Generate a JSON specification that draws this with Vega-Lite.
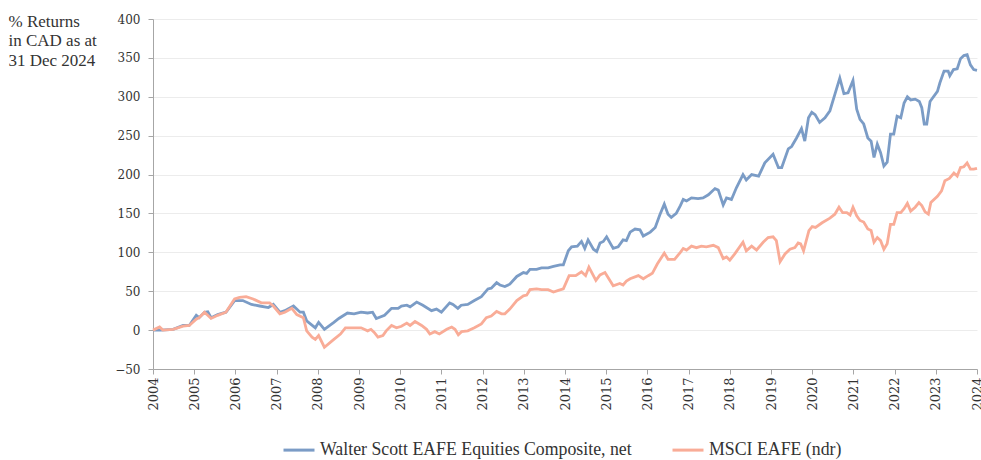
{
  "$schema": "https://vega.github.io/schema/vega-lite/v6.json",
  "width": 824,
  "height": 350,
  "autosize": {"type": "none"},
  "padding": {"left": 153, "top": 19, "right": 4, "bottom": 91},
  "background": "white",
  "config": {
    "view": {"stroke": null},
    "font": "DejaVu Serif",
    "axis": {"labelFont": "DejaVu Serif", "titleFont": "Liberation Serif", "labelColor": "#333333", "titleColor": "#333333", "domainColor": "#a6a6a6", "tickColor": "#a6a6a6", "gridColor": "#ececec", "gridWidth": 1},
    "legend": {"labelFont": "Liberation Serif"}
  },
  "data": {"values": [
    {"s":"Walter Scott EAFE Equities Composite, net","t":2004.0,"v":0},
    {"s":"Walter Scott EAFE Equities Composite, net","t":2004.2,"v":0},
    {"s":"Walter Scott EAFE Equities Composite, net","t":2004.49,"v":1},
    {"s":"Walter Scott EAFE Equities Composite, net","t":2004.73,"v":6},
    {"s":"Walter Scott EAFE Equities Composite, net","t":2004.88,"v":6},
    {"s":"Walter Scott EAFE Equities Composite, net","t":2005.05,"v":19},
    {"s":"Walter Scott EAFE Equities Composite, net","t":2005.12,"v":16},
    {"s":"Walter Scott EAFE Equities Composite, net","t":2005.25,"v":23},
    {"s":"Walter Scott EAFE Equities Composite, net","t":2005.33,"v":23.5},
    {"s":"Walter Scott EAFE Equities Composite, net","t":2005.41,"v":16},
    {"s":"Walter Scott EAFE Equities Composite, net","t":2005.57,"v":20},
    {"s":"Walter Scott EAFE Equities Composite, net","t":2005.77,"v":23},
    {"s":"Walter Scott EAFE Equities Composite, net","t":2005.98,"v":38},
    {"s":"Walter Scott EAFE Equities Composite, net","t":2006.18,"v":38},
    {"s":"Walter Scott EAFE Equities Composite, net","t":2006.39,"v":33},
    {"s":"Walter Scott EAFE Equities Composite, net","t":2006.59,"v":31},
    {"s":"Walter Scott EAFE Equities Composite, net","t":2006.8,"v":29},
    {"s":"Walter Scott EAFE Equities Composite, net","t":2006.92,"v":33},
    {"s":"Walter Scott EAFE Equities Composite, net","t":2007.08,"v":23},
    {"s":"Walter Scott EAFE Equities Composite, net","t":2007.2,"v":25},
    {"s":"Walter Scott EAFE Equities Composite, net","t":2007.41,"v":31},
    {"s":"Walter Scott EAFE Equities Composite, net","t":2007.57,"v":23},
    {"s":"Walter Scott EAFE Equities Composite, net","t":2007.65,"v":23},
    {"s":"Walter Scott EAFE Equities Composite, net","t":2007.73,"v":12},
    {"s":"Walter Scott EAFE Equities Composite, net","t":2007.94,"v":3},
    {"s":"Walter Scott EAFE Equities Composite, net","t":2008.02,"v":10},
    {"s":"Walter Scott EAFE Equities Composite, net","t":2008.16,"v":1},
    {"s":"Walter Scott EAFE Equities Composite, net","t":2008.39,"v":10},
    {"s":"Walter Scott EAFE Equities Composite, net","t":2008.51,"v":15},
    {"s":"Walter Scott EAFE Equities Composite, net","t":2008.72,"v":22},
    {"s":"Walter Scott EAFE Equities Composite, net","t":2008.88,"v":21},
    {"s":"Walter Scott EAFE Equities Composite, net","t":2009.05,"v":23},
    {"s":"Walter Scott EAFE Equities Composite, net","t":2009.21,"v":22},
    {"s":"Walter Scott EAFE Equities Composite, net","t":2009.33,"v":23},
    {"s":"Walter Scott EAFE Equities Composite, net","t":2009.42,"v":15},
    {"s":"Walter Scott EAFE Equities Composite, net","t":2009.62,"v":19},
    {"s":"Walter Scott EAFE Equities Composite, net","t":2009.79,"v":28},
    {"s":"Walter Scott EAFE Equities Composite, net","t":2009.95,"v":28},
    {"s":"Walter Scott EAFE Equities Composite, net","t":2010.03,"v":31},
    {"s":"Walter Scott EAFE Equities Composite, net","t":2010.16,"v":32},
    {"s":"Walter Scott EAFE Equities Composite, net","t":2010.24,"v":30},
    {"s":"Walter Scott EAFE Equities Composite, net","t":2010.4,"v":36},
    {"s":"Walter Scott EAFE Equities Composite, net","t":2010.55,"v":32},
    {"s":"Walter Scott EAFE Equities Composite, net","t":2010.76,"v":25},
    {"s":"Walter Scott EAFE Equities Composite, net","t":2010.88,"v":27},
    {"s":"Walter Scott EAFE Equities Composite, net","t":2011.0,"v":23},
    {"s":"Walter Scott EAFE Equities Composite, net","t":2011.2,"v":35},
    {"s":"Walter Scott EAFE Equities Composite, net","t":2011.28,"v":33},
    {"s":"Walter Scott EAFE Equities Composite, net","t":2011.4,"v":28},
    {"s":"Walter Scott EAFE Equities Composite, net","t":2011.48,"v":32},
    {"s":"Walter Scott EAFE Equities Composite, net","t":2011.64,"v":33},
    {"s":"Walter Scott EAFE Equities Composite, net","t":2011.8,"v":38},
    {"s":"Walter Scott EAFE Equities Composite, net","t":2011.97,"v":43},
    {"s":"Walter Scott EAFE Equities Composite, net","t":2012.13,"v":53},
    {"s":"Walter Scott EAFE Equities Composite, net","t":2012.21,"v":54},
    {"s":"Walter Scott EAFE Equities Composite, net","t":2012.34,"v":61},
    {"s":"Walter Scott EAFE Equities Composite, net","t":2012.42,"v":58},
    {"s":"Walter Scott EAFE Equities Composite, net","t":2012.54,"v":56},
    {"s":"Walter Scott EAFE Equities Composite, net","t":2012.66,"v":59},
    {"s":"Walter Scott EAFE Equities Composite, net","t":2012.83,"v":69},
    {"s":"Walter Scott EAFE Equities Composite, net","t":2012.99,"v":74},
    {"s":"Walter Scott EAFE Equities Composite, net","t":2013.07,"v":73},
    {"s":"Walter Scott EAFE Equities Composite, net","t":2013.15,"v":78},
    {"s":"Walter Scott EAFE Equities Composite, net","t":2013.31,"v":78},
    {"s":"Walter Scott EAFE Equities Composite, net","t":2013.43,"v":80},
    {"s":"Walter Scott EAFE Equities Composite, net","t":2013.59,"v":80},
    {"s":"Walter Scott EAFE Equities Composite, net","t":2013.72,"v":82},
    {"s":"Walter Scott EAFE Equities Composite, net","t":2013.88,"v":84},
    {"s":"Walter Scott EAFE Equities Composite, net","t":2013.96,"v":84},
    {"s":"Walter Scott EAFE Equities Composite, net","t":2014.08,"v":102},
    {"s":"Walter Scott EAFE Equities Composite, net","t":2014.16,"v":107},
    {"s":"Walter Scott EAFE Equities Composite, net","t":2014.3,"v":108},
    {"s":"Walter Scott EAFE Equities Composite, net","t":2014.4,"v":114},
    {"s":"Walter Scott EAFE Equities Composite, net","t":2014.48,"v":105},
    {"s":"Walter Scott EAFE Equities Composite, net","t":2014.56,"v":116},
    {"s":"Walter Scott EAFE Equities Composite, net","t":2014.69,"v":104},
    {"s":"Walter Scott EAFE Equities Composite, net","t":2014.77,"v":101},
    {"s":"Walter Scott EAFE Equities Composite, net","t":2014.85,"v":112},
    {"s":"Walter Scott EAFE Equities Composite, net","t":2014.93,"v":114},
    {"s":"Walter Scott EAFE Equities Composite, net","t":2015.01,"v":120},
    {"s":"Walter Scott EAFE Equities Composite, net","t":2015.17,"v":105},
    {"s":"Walter Scott EAFE Equities Composite, net","t":2015.29,"v":107},
    {"s":"Walter Scott EAFE Equities Composite, net","t":2015.41,"v":116},
    {"s":"Walter Scott EAFE Equities Composite, net","t":2015.49,"v":115},
    {"s":"Walter Scott EAFE Equities Composite, net","t":2015.58,"v":126},
    {"s":"Walter Scott EAFE Equities Composite, net","t":2015.7,"v":130},
    {"s":"Walter Scott EAFE Equities Composite, net","t":2015.82,"v":129},
    {"s":"Walter Scott EAFE Equities Composite, net","t":2015.9,"v":121},
    {"s":"Walter Scott EAFE Equities Composite, net","t":2016.07,"v":126},
    {"s":"Walter Scott EAFE Equities Composite, net","t":2016.19,"v":132},
    {"s":"Walter Scott EAFE Equities Composite, net","t":2016.3,"v":148},
    {"s":"Walter Scott EAFE Equities Composite, net","t":2016.41,"v":162},
    {"s":"Walter Scott EAFE Equities Composite, net","t":2016.5,"v":149},
    {"s":"Walter Scott EAFE Equities Composite, net","t":2016.58,"v":145},
    {"s":"Walter Scott EAFE Equities Composite, net","t":2016.7,"v":150},
    {"s":"Walter Scott EAFE Equities Composite, net","t":2016.8,"v":160},
    {"s":"Walter Scott EAFE Equities Composite, net","t":2016.87,"v":168},
    {"s":"Walter Scott EAFE Equities Composite, net","t":2016.95,"v":166},
    {"s":"Walter Scott EAFE Equities Composite, net","t":2017.07,"v":170},
    {"s":"Walter Scott EAFE Equities Composite, net","t":2017.23,"v":169},
    {"s":"Walter Scott EAFE Equities Composite, net","t":2017.35,"v":170},
    {"s":"Walter Scott EAFE Equities Composite, net","t":2017.48,"v":174},
    {"s":"Walter Scott EAFE Equities Composite, net","t":2017.64,"v":182},
    {"s":"Walter Scott EAFE Equities Composite, net","t":2017.72,"v":180},
    {"s":"Walter Scott EAFE Equities Composite, net","t":2017.84,"v":161},
    {"s":"Walter Scott EAFE Equities Composite, net","t":2017.92,"v":170},
    {"s":"Walter Scott EAFE Equities Composite, net","t":2018.04,"v":168},
    {"s":"Walter Scott EAFE Equities Composite, net","t":2018.16,"v":183},
    {"s":"Walter Scott EAFE Equities Composite, net","t":2018.32,"v":200},
    {"s":"Walter Scott EAFE Equities Composite, net","t":2018.4,"v":193},
    {"s":"Walter Scott EAFE Equities Composite, net","t":2018.53,"v":200},
    {"s":"Walter Scott EAFE Equities Composite, net","t":2018.7,"v":198},
    {"s":"Walter Scott EAFE Equities Composite, net","t":2018.85,"v":215},
    {"s":"Walter Scott EAFE Equities Composite, net","t":2019.05,"v":226},
    {"s":"Walter Scott EAFE Equities Composite, net","t":2019.18,"v":209},
    {"s":"Walter Scott EAFE Equities Composite, net","t":2019.26,"v":209},
    {"s":"Walter Scott EAFE Equities Composite, net","t":2019.42,"v":233},
    {"s":"Walter Scott EAFE Equities Composite, net","t":2019.5,"v":236},
    {"s":"Walter Scott EAFE Equities Composite, net","t":2019.62,"v":247},
    {"s":"Walter Scott EAFE Equities Composite, net","t":2019.74,"v":259},
    {"s":"Walter Scott EAFE Equities Composite, net","t":2019.82,"v":243},
    {"s":"Walter Scott EAFE Equities Composite, net","t":2019.91,"v":273},
    {"s":"Walter Scott EAFE Equities Composite, net","t":2019.99,"v":280},
    {"s":"Walter Scott EAFE Equities Composite, net","t":2020.07,"v":277},
    {"s":"Walter Scott EAFE Equities Composite, net","t":2020.18,"v":267},
    {"s":"Walter Scott EAFE Equities Composite, net","t":2020.31,"v":273},
    {"s":"Walter Scott EAFE Equities Composite, net","t":2020.43,"v":282},
    {"s":"Walter Scott EAFE Equities Composite, net","t":2020.55,"v":303},
    {"s":"Walter Scott EAFE Equities Composite, net","t":2020.67,"v":324},
    {"s":"Walter Scott EAFE Equities Composite, net","t":2020.77,"v":304},
    {"s":"Walter Scott EAFE Equities Composite, net","t":2020.87,"v":305},
    {"s":"Walter Scott EAFE Equities Composite, net","t":2020.99,"v":321},
    {"s":"Walter Scott EAFE Equities Composite, net","t":2021.08,"v":284},
    {"s":"Walter Scott EAFE Equities Composite, net","t":2021.16,"v":271},
    {"s":"Walter Scott EAFE Equities Composite, net","t":2021.25,"v":265},
    {"s":"Walter Scott EAFE Equities Composite, net","t":2021.35,"v":247},
    {"s":"Walter Scott EAFE Equities Composite, net","t":2021.43,"v":243},
    {"s":"Walter Scott EAFE Equities Composite, net","t":2021.5,"v":222},
    {"s":"Walter Scott EAFE Equities Composite, net","t":2021.58,"v":239},
    {"s":"Walter Scott EAFE Equities Composite, net","t":2021.66,"v":228},
    {"s":"Walter Scott EAFE Equities Composite, net","t":2021.74,"v":211},
    {"s":"Walter Scott EAFE Equities Composite, net","t":2021.82,"v":216},
    {"s":"Walter Scott EAFE Equities Composite, net","t":2021.9,"v":252},
    {"s":"Walter Scott EAFE Equities Composite, net","t":2021.98,"v":252},
    {"s":"Walter Scott EAFE Equities Composite, net","t":2022.06,"v":275},
    {"s":"Walter Scott EAFE Equities Composite, net","t":2022.15,"v":273},
    {"s":"Walter Scott EAFE Equities Composite, net","t":2022.23,"v":292},
    {"s":"Walter Scott EAFE Equities Composite, net","t":2022.31,"v":300},
    {"s":"Walter Scott EAFE Equities Composite, net","t":2022.39,"v":296},
    {"s":"Walter Scott EAFE Equities Composite, net","t":2022.5,"v":297},
    {"s":"Walter Scott EAFE Equities Composite, net","t":2022.6,"v":294},
    {"s":"Walter Scott EAFE Equities Composite, net","t":2022.66,"v":286},
    {"s":"Walter Scott EAFE Equities Composite, net","t":2022.72,"v":265},
    {"s":"Walter Scott EAFE Equities Composite, net","t":2022.78,"v":265},
    {"s":"Walter Scott EAFE Equities Composite, net","t":2022.86,"v":294},
    {"s":"Walter Scott EAFE Equities Composite, net","t":2023.04,"v":307},
    {"s":"Walter Scott EAFE Equities Composite, net","t":2023.1,"v":318},
    {"s":"Walter Scott EAFE Equities Composite, net","t":2023.2,"v":333},
    {"s":"Walter Scott EAFE Equities Composite, net","t":2023.3,"v":333},
    {"s":"Walter Scott EAFE Equities Composite, net","t":2023.34,"v":327},
    {"s":"Walter Scott EAFE Equities Composite, net","t":2023.43,"v":335},
    {"s":"Walter Scott EAFE Equities Composite, net","t":2023.52,"v":336},
    {"s":"Walter Scott EAFE Equities Composite, net","t":2023.6,"v":349},
    {"s":"Walter Scott EAFE Equities Composite, net","t":2023.68,"v":353},
    {"s":"Walter Scott EAFE Equities Composite, net","t":2023.76,"v":354},
    {"s":"Walter Scott EAFE Equities Composite, net","t":2023.84,"v":341},
    {"s":"Walter Scott EAFE Equities Composite, net","t":2023.92,"v":335},
    {"s":"Walter Scott EAFE Equities Composite, net","t":2024.0,"v":334},
    {"s":"MSCI EAFE (ndr)","t":2004.0,"v":0},
    {"s":"MSCI EAFE (ndr)","t":2004.16,"v":4},
    {"s":"MSCI EAFE (ndr)","t":2004.24,"v":0},
    {"s":"MSCI EAFE (ndr)","t":2004.49,"v":1},
    {"s":"MSCI EAFE (ndr)","t":2004.73,"v":5},
    {"s":"MSCI EAFE (ndr)","t":2004.88,"v":6},
    {"s":"MSCI EAFE (ndr)","t":2005.05,"v":14},
    {"s":"MSCI EAFE (ndr)","t":2005.12,"v":16},
    {"s":"MSCI EAFE (ndr)","t":2005.25,"v":23},
    {"s":"MSCI EAFE (ndr)","t":2005.41,"v":15},
    {"s":"MSCI EAFE (ndr)","t":2005.57,"v":19},
    {"s":"MSCI EAFE (ndr)","t":2005.77,"v":23},
    {"s":"MSCI EAFE (ndr)","t":2005.98,"v":40},
    {"s":"MSCI EAFE (ndr)","t":2006.1,"v":42},
    {"s":"MSCI EAFE (ndr)","t":2006.26,"v":43},
    {"s":"MSCI EAFE (ndr)","t":2006.43,"v":40},
    {"s":"MSCI EAFE (ndr)","t":2006.63,"v":35},
    {"s":"MSCI EAFE (ndr)","t":2006.83,"v":35},
    {"s":"MSCI EAFE (ndr)","t":2006.92,"v":31},
    {"s":"MSCI EAFE (ndr)","t":2007.08,"v":21},
    {"s":"MSCI EAFE (ndr)","t":2007.2,"v":23},
    {"s":"MSCI EAFE (ndr)","t":2007.37,"v":28},
    {"s":"MSCI EAFE (ndr)","t":2007.49,"v":20},
    {"s":"MSCI EAFE (ndr)","t":2007.65,"v":16},
    {"s":"MSCI EAFE (ndr)","t":2007.73,"v":-1},
    {"s":"MSCI EAFE (ndr)","t":2007.86,"v":-9},
    {"s":"MSCI EAFE (ndr)","t":2007.94,"v":-12},
    {"s":"MSCI EAFE (ndr)","t":2008.02,"v":-7},
    {"s":"MSCI EAFE (ndr)","t":2008.16,"v":-22},
    {"s":"MSCI EAFE (ndr)","t":2008.39,"v":-12},
    {"s":"MSCI EAFE (ndr)","t":2008.55,"v":-5},
    {"s":"MSCI EAFE (ndr)","t":2008.67,"v":3},
    {"s":"MSCI EAFE (ndr)","t":2008.88,"v":3},
    {"s":"MSCI EAFE (ndr)","t":2009.05,"v":3},
    {"s":"MSCI EAFE (ndr)","t":2009.21,"v":-1},
    {"s":"MSCI EAFE (ndr)","t":2009.29,"v":1},
    {"s":"MSCI EAFE (ndr)","t":2009.37,"v":-3},
    {"s":"MSCI EAFE (ndr)","t":2009.46,"v":-9},
    {"s":"MSCI EAFE (ndr)","t":2009.58,"v":-7},
    {"s":"MSCI EAFE (ndr)","t":2009.66,"v":-1},
    {"s":"MSCI EAFE (ndr)","t":2009.79,"v":6},
    {"s":"MSCI EAFE (ndr)","t":2009.91,"v":3},
    {"s":"MSCI EAFE (ndr)","t":2010.03,"v":5},
    {"s":"MSCI EAFE (ndr)","t":2010.16,"v":9},
    {"s":"MSCI EAFE (ndr)","t":2010.24,"v":6},
    {"s":"MSCI EAFE (ndr)","t":2010.36,"v":11},
    {"s":"MSCI EAFE (ndr)","t":2010.52,"v":6},
    {"s":"MSCI EAFE (ndr)","t":2010.64,"v":1},
    {"s":"MSCI EAFE (ndr)","t":2010.72,"v":-5},
    {"s":"MSCI EAFE (ndr)","t":2010.84,"v":-2},
    {"s":"MSCI EAFE (ndr)","t":2010.95,"v":-5},
    {"s":"MSCI EAFE (ndr)","t":2011.13,"v":1},
    {"s":"MSCI EAFE (ndr)","t":2011.25,"v":4},
    {"s":"MSCI EAFE (ndr)","t":2011.33,"v":1},
    {"s":"MSCI EAFE (ndr)","t":2011.41,"v":-6},
    {"s":"MSCI EAFE (ndr)","t":2011.49,"v":-2},
    {"s":"MSCI EAFE (ndr)","t":2011.64,"v":-1},
    {"s":"MSCI EAFE (ndr)","t":2011.8,"v":3},
    {"s":"MSCI EAFE (ndr)","t":2011.97,"v":8},
    {"s":"MSCI EAFE (ndr)","t":2012.09,"v":16},
    {"s":"MSCI EAFE (ndr)","t":2012.21,"v":18},
    {"s":"MSCI EAFE (ndr)","t":2012.34,"v":24},
    {"s":"MSCI EAFE (ndr)","t":2012.46,"v":21},
    {"s":"MSCI EAFE (ndr)","t":2012.54,"v":21},
    {"s":"MSCI EAFE (ndr)","t":2012.66,"v":27},
    {"s":"MSCI EAFE (ndr)","t":2012.83,"v":38},
    {"s":"MSCI EAFE (ndr)","t":2012.99,"v":44},
    {"s":"MSCI EAFE (ndr)","t":2013.07,"v":45},
    {"s":"MSCI EAFE (ndr)","t":2013.15,"v":52},
    {"s":"MSCI EAFE (ndr)","t":2013.31,"v":53},
    {"s":"MSCI EAFE (ndr)","t":2013.43,"v":52},
    {"s":"MSCI EAFE (ndr)","t":2013.59,"v":52},
    {"s":"MSCI EAFE (ndr)","t":2013.72,"v":49},
    {"s":"MSCI EAFE (ndr)","t":2013.84,"v":51},
    {"s":"MSCI EAFE (ndr)","t":2013.96,"v":53},
    {"s":"MSCI EAFE (ndr)","t":2014.1,"v":70},
    {"s":"MSCI EAFE (ndr)","t":2014.26,"v":70},
    {"s":"MSCI EAFE (ndr)","t":2014.4,"v":75},
    {"s":"MSCI EAFE (ndr)","t":2014.5,"v":70},
    {"s":"MSCI EAFE (ndr)","t":2014.58,"v":81},
    {"s":"MSCI EAFE (ndr)","t":2014.75,"v":64},
    {"s":"MSCI EAFE (ndr)","t":2014.85,"v":71},
    {"s":"MSCI EAFE (ndr)","t":2014.97,"v":74},
    {"s":"MSCI EAFE (ndr)","t":2015.17,"v":57},
    {"s":"MSCI EAFE (ndr)","t":2015.33,"v":60},
    {"s":"MSCI EAFE (ndr)","t":2015.41,"v":58},
    {"s":"MSCI EAFE (ndr)","t":2015.49,"v":63},
    {"s":"MSCI EAFE (ndr)","t":2015.58,"v":66},
    {"s":"MSCI EAFE (ndr)","t":2015.78,"v":70},
    {"s":"MSCI EAFE (ndr)","t":2015.9,"v":66},
    {"s":"MSCI EAFE (ndr)","t":2016.02,"v":70},
    {"s":"MSCI EAFE (ndr)","t":2016.12,"v":73},
    {"s":"MSCI EAFE (ndr)","t":2016.24,"v":85},
    {"s":"MSCI EAFE (ndr)","t":2016.41,"v":99},
    {"s":"MSCI EAFE (ndr)","t":2016.5,"v":91},
    {"s":"MSCI EAFE (ndr)","t":2016.66,"v":91},
    {"s":"MSCI EAFE (ndr)","t":2016.8,"v":100},
    {"s":"MSCI EAFE (ndr)","t":2016.87,"v":105},
    {"s":"MSCI EAFE (ndr)","t":2016.95,"v":103},
    {"s":"MSCI EAFE (ndr)","t":2017.07,"v":108},
    {"s":"MSCI EAFE (ndr)","t":2017.19,"v":106},
    {"s":"MSCI EAFE (ndr)","t":2017.31,"v":108},
    {"s":"MSCI EAFE (ndr)","t":2017.43,"v":107},
    {"s":"MSCI EAFE (ndr)","t":2017.6,"v":109},
    {"s":"MSCI EAFE (ndr)","t":2017.72,"v":106},
    {"s":"MSCI EAFE (ndr)","t":2017.84,"v":92},
    {"s":"MSCI EAFE (ndr)","t":2017.92,"v":94},
    {"s":"MSCI EAFE (ndr)","t":2018.0,"v":90},
    {"s":"MSCI EAFE (ndr)","t":2018.12,"v":98},
    {"s":"MSCI EAFE (ndr)","t":2018.32,"v":113},
    {"s":"MSCI EAFE (ndr)","t":2018.4,"v":102},
    {"s":"MSCI EAFE (ndr)","t":2018.53,"v":108},
    {"s":"MSCI EAFE (ndr)","t":2018.65,"v":103},
    {"s":"MSCI EAFE (ndr)","t":2018.81,"v":113},
    {"s":"MSCI EAFE (ndr)","t":2018.93,"v":119},
    {"s":"MSCI EAFE (ndr)","t":2019.05,"v":120},
    {"s":"MSCI EAFE (ndr)","t":2019.13,"v":115},
    {"s":"MSCI EAFE (ndr)","t":2019.22,"v":88},
    {"s":"MSCI EAFE (ndr)","t":2019.34,"v":98},
    {"s":"MSCI EAFE (ndr)","t":2019.46,"v":104},
    {"s":"MSCI EAFE (ndr)","t":2019.58,"v":106},
    {"s":"MSCI EAFE (ndr)","t":2019.66,"v":112},
    {"s":"MSCI EAFE (ndr)","t":2019.72,"v":111},
    {"s":"MSCI EAFE (ndr)","t":2019.79,"v":102},
    {"s":"MSCI EAFE (ndr)","t":2019.92,"v":128},
    {"s":"MSCI EAFE (ndr)","t":2020.0,"v":133},
    {"s":"MSCI EAFE (ndr)","t":2020.08,"v":132},
    {"s":"MSCI EAFE (ndr)","t":2020.24,"v":138},
    {"s":"MSCI EAFE (ndr)","t":2020.43,"v":144},
    {"s":"MSCI EAFE (ndr)","t":2020.55,"v":149},
    {"s":"MSCI EAFE (ndr)","t":2020.65,"v":158},
    {"s":"MSCI EAFE (ndr)","t":2020.74,"v":151},
    {"s":"MSCI EAFE (ndr)","t":2020.84,"v":151},
    {"s":"MSCI EAFE (ndr)","t":2020.92,"v":148},
    {"s":"MSCI EAFE (ndr)","t":2020.99,"v":158},
    {"s":"MSCI EAFE (ndr)","t":2021.08,"v":147},
    {"s":"MSCI EAFE (ndr)","t":2021.16,"v":141},
    {"s":"MSCI EAFE (ndr)","t":2021.25,"v":139},
    {"s":"MSCI EAFE (ndr)","t":2021.35,"v":130},
    {"s":"MSCI EAFE (ndr)","t":2021.43,"v":128},
    {"s":"MSCI EAFE (ndr)","t":2021.5,"v":113},
    {"s":"MSCI EAFE (ndr)","t":2021.58,"v":119},
    {"s":"MSCI EAFE (ndr)","t":2021.66,"v":115},
    {"s":"MSCI EAFE (ndr)","t":2021.74,"v":104},
    {"s":"MSCI EAFE (ndr)","t":2021.82,"v":111},
    {"s":"MSCI EAFE (ndr)","t":2021.9,"v":136},
    {"s":"MSCI EAFE (ndr)","t":2021.98,"v":136},
    {"s":"MSCI EAFE (ndr)","t":2022.06,"v":151},
    {"s":"MSCI EAFE (ndr)","t":2022.15,"v":151},
    {"s":"MSCI EAFE (ndr)","t":2022.23,"v":156},
    {"s":"MSCI EAFE (ndr)","t":2022.31,"v":163},
    {"s":"MSCI EAFE (ndr)","t":2022.39,"v":153},
    {"s":"MSCI EAFE (ndr)","t":2022.5,"v":158},
    {"s":"MSCI EAFE (ndr)","t":2022.59,"v":164},
    {"s":"MSCI EAFE (ndr)","t":2022.66,"v":160},
    {"s":"MSCI EAFE (ndr)","t":2022.74,"v":152},
    {"s":"MSCI EAFE (ndr)","t":2022.82,"v":149},
    {"s":"MSCI EAFE (ndr)","t":2022.88,"v":164},
    {"s":"MSCI EAFE (ndr)","t":2023.04,"v":172},
    {"s":"MSCI EAFE (ndr)","t":2023.14,"v":179},
    {"s":"MSCI EAFE (ndr)","t":2023.22,"v":192},
    {"s":"MSCI EAFE (ndr)","t":2023.33,"v":195},
    {"s":"MSCI EAFE (ndr)","t":2023.44,"v":202},
    {"s":"MSCI EAFE (ndr)","t":2023.52,"v":198},
    {"s":"MSCI EAFE (ndr)","t":2023.6,"v":209},
    {"s":"MSCI EAFE (ndr)","t":2023.68,"v":210},
    {"s":"MSCI EAFE (ndr)","t":2023.76,"v":215},
    {"s":"MSCI EAFE (ndr)","t":2023.84,"v":207},
    {"s":"MSCI EAFE (ndr)","t":2023.92,"v":207},
    {"s":"MSCI EAFE (ndr)","t":2024.0,"v":208}
  ]},
  "mark": {"type": "line", "strokeWidth": 2.8, "interpolate": "linear"},
  "encoding": {
    "x": {"field": "t", "type": "quantitative",
      "scale": {"domain": [2004, 2024], "nice": false, "zero": false},
      "axis": {"values": [2004,2005,2006,2007,2008,2009,2010,2011,2012,2013,2014,2015,2016,2017,2018,2019,2020,2021,2022,2023,2024],
        "format": "d", "labelAngle": -90, "labelFont": "DejaVu Serif", "labelFontSize": 13, "labelPadding": 3, "tickSize": 5, "grid": false, "title": null, "labelFlush": false, "labelOverlap": false}},
    "y": {"field": "v", "type": "quantitative",
      "scale": {"domain": [-50, 400], "nice": false, "zero": false},
      "axis": {"values": [-50,0,50,100,150,200,250,300,350,400], "labelFont": "DejaVu Serif", "labelFontSize": 12, "tickSize": 5, "labelPadding": 8, "grid": true,
        "title": ["% Returns", "in CAD as at", "31 Dec 2024"], "titleFont": "Liberation Serif", "titleAngle": 0, "titleAlign": "left", "titleBaseline": "top",
        "titleX": -145, "titleY": -6, "titleFontSize": 17, "titleFontWeight": "normal", "titleLineHeight": 19.5}},
    "color": {"field": "s", "type": "nominal",
      "scale": {"domain": ["Walter Scott EAFE Equities Composite, net", "MSCI EAFE (ndr)"], "range": ["#7b9cc6", "#f9ac97"]},
      "legend": {"title": null, "orient": "none", "legendX": 129, "legendY": 414, "direction": "horizontal",
        "symbolType": "stroke", "symbolSize": 961, "symbolStrokeWidth": 3, "labelFont": "Liberation Serif", "labelFontSize": 17.8, "labelColor": "#333333",
        "labelOffset": 4, "columnPadding": 34, "padding": 0, "labelLimit": 500}}
  }
}
